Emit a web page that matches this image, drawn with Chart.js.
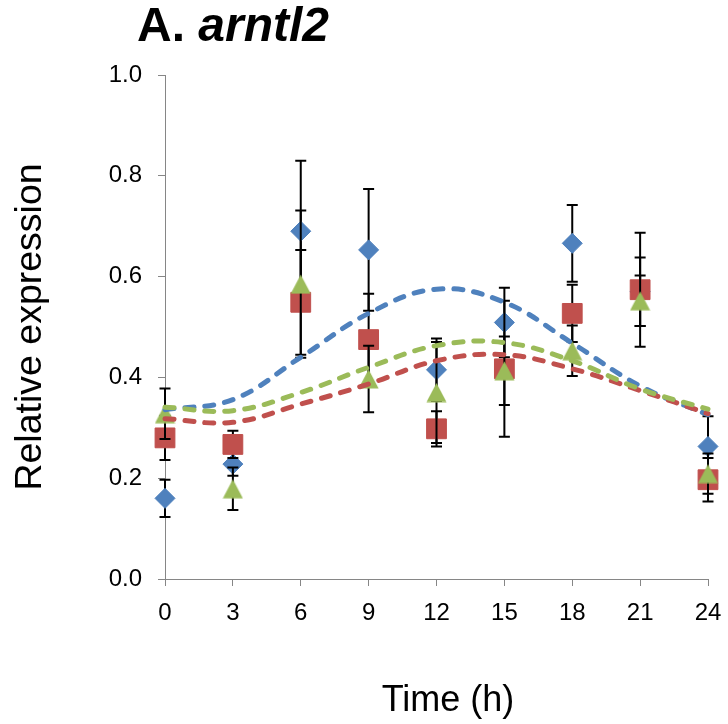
<!DOCTYPE html>
<html>
<head>
<meta charset="utf-8">
<script src="https://cdn.jsdelivr.net/npm/chart.js@4"></script>
<style>
    body { margin: 0; background: #fff; }
    #wrap { position: relative; width: 728px; height: 724px; }
    #title {
        position: absolute; left: 137px; top: 1px;
        font: bold 48px "Liberation Sans", Arial, sans-serif;
        line-height: 48px; white-space: nowrap; color: #000;
    }
    #xTitle {
        position: absolute; left: 448px; top: 681px; transform: translateX(-50%);
        font: 36px "Liberation Sans", Arial, sans-serif;
        line-height: 36px; white-space: nowrap; color: #000;
    }
</style>
</head>
<body>
<div id="wrap">
    <canvas id="chart" width="728" height="724"></canvas>
    <div id="title">A. <i>arntl2</i></div>
    <div id="xTitle">Time (h)</div>
</div>
<script>
const hours = [0, 3, 6, 9, 12, 15, 18, 21, 24];

// measured means and error bars
const blueMean = [0.16, 0.228, 0.69, 0.653, 0.415, 0.509, 0.666, 0.57, 0.263];
const blueErr = [0.037, 0.023, 0.14, 0.121, 0.062, 0.069, 0.076, 0.068, 0.06];
const redMean = [0.28, 0.267, 0.549, 0.475, 0.298, 0.417, 0.527, 0.574, 0.197];
const redErr = [0.044, 0.027, 0.104, 0.091, 0.035, 0.135, 0.057, 0.113, 0.043];
const greenMean = [0.328, 0.179, 0.585, 0.397, 0.37, 0.413, 0.453, 0.552, 0.209];
const greenErr = [0.05, 0.042, 0.146, 0.066, 0.1, 0.068, 0.05, 0.05, 0.04];

const blueFit = [0.336, 0.356, 0.44, 0.527, 0.575, 0.549, 0.468, 0.383, 0.326];
const redFit = [0.318, 0.311, 0.347, 0.387, 0.433, 0.445, 0.417, 0.374, 0.328];
const greenFit = [0.341, 0.334, 0.37, 0.42, 0.463, 0.469, 0.433, 0.377, 0.337];

const yTicks = [0, 0.2, 0.4, 0.6, 0.8, 1.0];

const BLUE = "#4F81BD";
const RED = "#C0504D";
const GREEN = "#9BBB59";
const AXIS = "#868686";
const FONT = "'Liberation Sans', Arial, sans-serif";

function toPoints(vals) {
    return hours.map((h, i) => ({ x: h, y: vals[i] }));
}

function makeTriangle(color) {
    const c = document.createElement("canvas");
    c.width = 21;
    c.height = 20;
    const g = c.getContext("2d");
    g.fillStyle = color;
    g.beginPath();
    g.moveTo(10.5, 0.5);
    g.lineTo(20.5, 19.5);
    g.lineTo(0.5, 19.5);
    g.closePath();
    g.fill();
    return c;
}

// draws each series' error bars just before its markers
const errorBars = {
    id: "errorBars",
    beforeDatasetDraw(chart, args) {
        const ds = chart.data.datasets[args.index];
        if (!ds.errors) return;
        const { ctx, scales: { x, y } } = chart;
        ctx.save();
        ctx.strokeStyle = "#000";
        ctx.lineWidth = 2;
        ds.data.forEach((p, i) => {
            const px = x.getPixelForValue(p.x);
            const top = y.getPixelForValue(p.y + ds.errors[i]);
            const bot = y.getPixelForValue(p.y - ds.errors[i]);
            ctx.beginPath();
            ctx.moveTo(px, top);
            ctx.lineTo(px, bot);
            ctx.moveTo(px - 5.5, top);
            ctx.lineTo(px + 5.5, top);
            ctx.moveTo(px - 5.5, bot);
            ctx.lineTo(px + 5.5, bot);
            ctx.stroke();
        });
        ctx.restore();
    }
};

function markerSet(vals, errs, color, style, radius, order) {
    return {
        data: toPoints(vals),
        errors: errs,
        showLine: false,
        pointStyle: style,
        pointRadius: radius,
        pointBackgroundColor: color,
        pointBorderColor: color,
        pointBorderWidth: 1,
        clip: false,
        order: order
    };
}

function fitSet(vals, color, order) {
    return {
        data: toPoints(vals),
        borderColor: color,
        borderWidth: 5,
        borderDash: [9, 11],
        borderCapStyle: "round",
        pointRadius: 0,
        tension: 0.4,
        fill: false,
        clip: false,
        order: order
    };
}

new Chart(document.getElementById("chart"), {
    type: "line",
    data: {
        datasets: [
            markerSet(blueMean, blueErr, BLUE, "rectRot", 10, 5),
            markerSet(redMean, redErr, RED, "rect", 14, 4),
            markerSet(greenMean, greenErr, GREEN, makeTriangle(GREEN), 10, 3),
            fitSet(blueFit, BLUE, 2),
            fitSet(redFit, RED, 1),
            fitSet(greenFit, GREEN, 0)
        ]
    },
    options: {
        responsive: false,
        animation: false,
        events: [],
        layout: { padding: { top: 75, right: 20, left: 0, bottom: 0 } },
        plugins: { legend: { display: false }, tooltip: { enabled: false } },
        scales: {
            x: {
                type: "linear",
                min: 0,
                max: 24,
                afterBuildTicks: s => { s.ticks = hours.map(v => ({ value: v })); },
                ticks: { color: "#000", font: { size: 24, family: FONT }, padding: 13, maxRotation: 0, autoSkip: false },
                grid: { drawOnChartArea: false, drawTicks: true, tickLength: 7, color: AXIS },
                border: { color: AXIS, width: 1 },
                afterFit: s => { s.height = 145; s.paddingLeft = 0; s.paddingRight = 0; }
            },
            y: {
                min: 0,
                max: 1,
                afterBuildTicks: s => { s.ticks = yTicks.map(v => ({ value: v })); },
                ticks: { color: "#000", font: { size: 24, family: FONT }, padding: 16, callback: v => v.toFixed(1) },
                grid: { drawOnChartArea: false, drawTicks: true, tickLength: 7, color: AXIS },
                border: { color: AXIS, width: 1 },
                title: { display: true, text: "Relative expression", color: "#000", font: { size: 37.5, family: FONT }, padding: { top: 8, bottom: 0 } },
                afterFit: s => { s.width = 165; s.paddingTop = 0; s.paddingBottom = 0; }
            }
        }
    },
    plugins: [errorBars]
});
</script>
</body>
</html>
